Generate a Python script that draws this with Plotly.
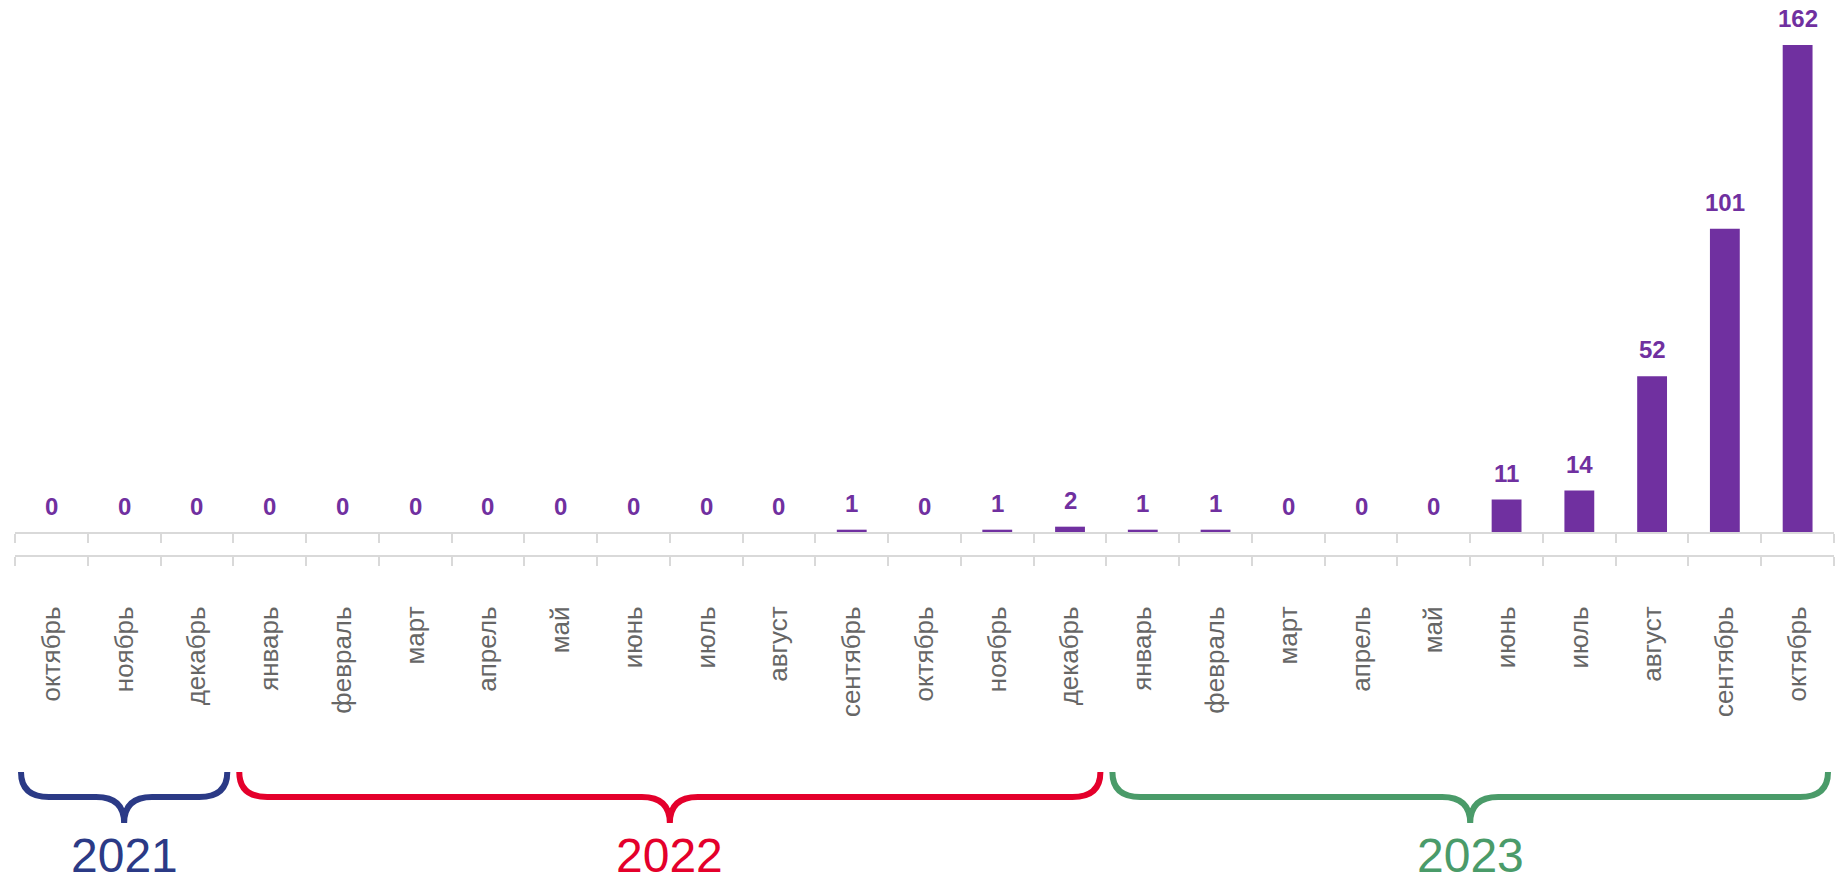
import plotly.graph_objects as go

months = ["октябрь", "ноябрь", "декабрь", "январь", "февраль", "март", "апрель",
          "май", "июнь", "июль", "август", "сентябрь", "октябрь", "ноябрь",
          "декабрь", "январь", "февраль", "март", "апрель", "май", "июнь",
          "июль", "август", "сентябрь", "октябрь"]
values = [0, 0, 0, 0, 0, 0, 0, 0, 0, 0, 0, 1, 0, 1, 2, 1, 1, 0, 0, 0, 11, 14, 52, 101, 162]
years = ["2021", "2022", "2023"]
year_counts = [3, 12, 10]
year_colors = ["#2B3A86", "#E4002B", "#4A9B69"]

BAR_COLOR = "#7030A0"
AXIS_COLOR = "#D9D9D9"
FONT = "Liberation Sans, Arial, sans-serif"

W, H = 1848, 883
ML, MR, MT = 15, 14, 0
AX0 = 532.7      # pixel row of y = 0
AXB = 555.0      # pixel row of the lower axis line
PXU = 3.01       # pixels per unit
MB = H - AXB
plot_w = W - ML - MR
plot_h = AXB - MT
ymin = -(AXB - AX0) / PXU
ymax = (AX0 - MT) / PXU

n = len(months)
idx = list(range(n))
bounds = [i - 0.5 for i in range(n + 1)]


def px_y(py):
    return (AXB - py) / plot_h


def cat_paper(c):
    return (c + 0.5) / n


fig = go.Figure()
fig.add_trace(go.Bar(x=idx, y=values, width=0.41, marker=dict(color=BAR_COLOR, line=dict(width=0)),
                     hoverinfo="x+y", showlegend=False))
fig.add_trace(go.Scatter(x=idx, y=values, xaxis="x2", mode="markers",
                         marker=dict(opacity=0), hoverinfo="skip", showlegend=False))

annotations = []
for i, v in zip(idx, values):
    annotations.append(dict(x=i, y=v, xref="x", yref="y", text=f"<b>{v}</b>", showarrow=False,
                            yanchor="bottom", yshift=11,
                            font=dict(family=FONT, size=24, color=BAR_COLOR)))

# braces with year labels
shapes = []
inset = 6 / plot_w
rx = 28 / plot_w
yt, ym, yb = px_y(772), px_y(797), px_y(823)
start = 0
for yr, cnt, col in zip(years, year_counts, year_colors):
    x0 = cat_paper(start - 0.5) + inset
    x1 = cat_paper(start + cnt - 0.5) - inset
    c = (x0 + x1) / 2
    path = (f"M {x0},{yt} Q {x0},{ym} {x0 + rx},{ym} L {c - rx},{ym} "
            f"Q {c},{ym} {c},{yb} Q {c},{ym} {c + rx},{ym} L {x1 - rx},{ym} "
            f"Q {x1},{ym} {x1},{yt}")
    shapes.append(dict(type="path", path=path, xref="paper", yref="paper",
                       line=dict(color=col, width=6)))
    annotations.append(dict(x=c, y=px_y(882.5), xref="paper", yref="paper", text=yr,
                            showarrow=False, xanchor="center", yanchor="bottom", borderpad=0,
                            font=dict(family=FONT, size=48, color=col)))
    start += cnt

fig.update_layout(
    width=W, height=H,
    margin=dict(l=ML, r=MR, t=MT, b=MB, pad=0),
    paper_bgcolor="white", plot_bgcolor="white",
    bargap=0.59,
    xaxis=dict(range=[-0.5, n - 0.5], anchor="free", position=px_y(AX0),
               showline=True, linecolor=AXIS_COLOR, linewidth=2,
               tickmode="array", tickvals=bounds, ticks="outside", ticklen=9,
               tickwidth=2, tickcolor=AXIS_COLOR, showticklabels=False,
               showgrid=False, zeroline=False),
    xaxis2=dict(overlaying="x", matches="x", anchor="y", side="bottom",
                showline=True, linecolor=AXIS_COLOR, linewidth=2,
                tickmode="array", tickvals=idx, ticktext=months, ticks="",
                tickangle=-90, ticklabelstandoff=39,
                tickfont=dict(family=FONT, size=26, color="#666666"),
                minor=dict(tickmode="array", tickvals=bounds, ticks="outside", ticklen=9,
                           tickwidth=2, tickcolor=AXIS_COLOR, showgrid=False),
                showgrid=False, zeroline=False),
    yaxis=dict(range=[ymin, ymax], visible=False, fixedrange=True),
    shapes=shapes,
    annotations=annotations,
    font=dict(family=FONT),
)

fig.write_html("out.html", config={"displayModeBar": False},
               post_script="document.body.style.margin='0px';document.body.style.overflow='hidden';")
